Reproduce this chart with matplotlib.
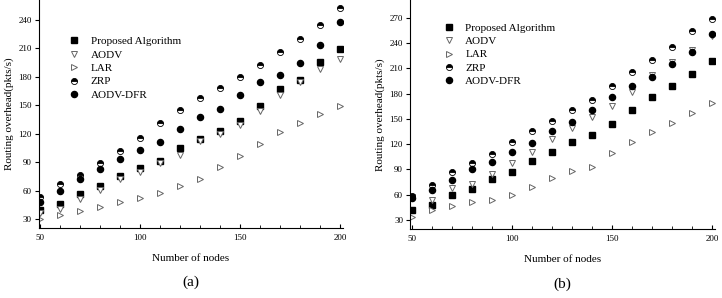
import matplotlib
matplotlib.use("Agg")
import matplotlib.pyplot as plt
from matplotlib.ticker import MultipleLocator

plt.rcParams['font.family'] = ['Liberation Serif', 'DejaVu Serif']

nodes = [50, 60, 70, 80, 90, 100, 110, 120, 130, 140, 150, 160, 170, 180, 190, 200]

# panel (a)
a_proposed = [40, 45.5, 56, 65, 75.7, 83.8, 91.5, 105, 114.7, 122.5, 133.7, 149.5, 167.5, 176.6, 195.6, 209]
a_aodv = [36, 40.5, 51, 60.3, 72.2, 79.6, 88.8, 98, 112, 119.7, 129, 144, 161, 175, 188, 199]
a_lar = [30, 34, 38.8, 43, 48, 51.8, 57.8, 65, 72.5, 85, 96, 109, 121.5, 131.6, 141, 149.5]
a_zrp = [53.5, 66.6, 76.8, 89.4, 102, 115.8, 131.3, 145.3, 157.3, 168.5, 179.5, 192.5, 206.5, 219.6, 235, 253]
a_dfr = [48, 59.9, 72.5, 83, 93.6, 102.8, 111.5, 125.3, 137.3, 146.4, 160.5, 175, 181.6, 194.6, 213.6, 238]

# panel (b)
b_proposed = [41.5, 48, 60, 67.1, 78.3, 87.3, 100.3, 111, 122, 131, 143.5, 160.5, 175.5, 189.3, 203, 219]
b_aodv = [57, 53.7, 67.6, 72.7, 85, 98, 110.3, 126, 138.8, 151.8, 164.8, 181.8, 201.6, 218, 231.6, 248]
b_lar = [34, 41.5, 46.6, 51, 53.7, 59.3, 68.8, 80.2, 88, 93, 109.8, 122, 134, 145, 157, 169]
b_zrp = [58, 71.9, 87, 97.6, 108, 122.9, 135.5, 147.8, 160, 172, 189, 206, 219.8, 234.8, 254, 268.8]
b_dfr = [56, 66, 77.8, 90.8, 98.8, 110.3, 121.7, 135.5, 145.9, 160.8, 176, 189.3, 200, 214.6, 229, 250.6]

names = ['Proposed Algorithm', 'AODV', 'LAR', 'ZRP', 'AODV-DFR']

fig = plt.figure(figsize=(7.22, 2.98), dpi=100)
ax_a = fig.add_axes([38.5/722, 1-228/298, 304.5/722, 228/298])
ax_b = fig.add_axes([410/722, 1-229/298, 305/722, 229/298])


def draw(ax, series, ylim, yticks, legend_anchor, tag):
    styles = [
        dict(marker='s', color='black', mfc='black', mec='black'),
        dict(marker='v', color='#666666', mfc='white', mec='#666666', mew=0.7),
        dict(marker='>', color='#666666', mfc='white', mec='#666666', mew=0.7),
        dict(marker='o', color='black', mfc='black', mec='black', fillstyle='top',
             markerfacecoloralt='white', mew=0.6),
        dict(marker='o', color='black', mfc='black', mec='black'),
    ]
    for vals, name, st in zip(series, names, styles):
        ax.plot(nodes, vals, linestyle='none', ms=4.4, label=name, **st)
    ax.set_xlim(49.2, 201.5)
    ax.set_ylim(*ylim)
    ax.set_xticks([50, 100, 150, 200])
    ax.xaxis.set_minor_locator(MultipleLocator(10))
    ax.set_yticks(yticks)
    ax.spines['top'].set_visible(False)
    ax.spines['right'].set_visible(False)
    ax.tick_params(axis='x', direction='in', length=3, labelsize=6.5, pad=4)
    ax.tick_params(axis='x', which='minor', direction='in', length=2)
    ax.tick_params(axis='y', direction='out', length=3, labelsize=6.5, pad=2)
    ax.set_xlabel('Number of nodes', fontsize=8, labelpad=9)
    ax.set_ylabel('Routing overhead(pkts/s)', fontsize=8, labelpad=3)
    ax.text(0.5, -0.24, tag, transform=ax.transAxes, ha='center', va='center', fontsize=11)
    ax.legend(loc='upper left', bbox_to_anchor=legend_anchor, frameon=False, fontsize=8,
              handletextpad=0.9, labelspacing=0.33, borderaxespad=0, handlelength=1.2)


draw(ax_a, [a_proposed, a_aodv, a_lar, a_zrp, a_dfr], (20.5, 261),
     [30, 60, 90, 120, 150, 180, 210, 240], (0.08, 0.86), '(a)')
draw(ax_b, [b_proposed, b_aodv, b_lar, b_zrp, b_dfr], (19.3, 291),
     [30, 60, 90, 120, 150, 180, 210, 240, 270], (0.09, 0.92), '(b)')

fig.savefig('out.png', dpi=100)
